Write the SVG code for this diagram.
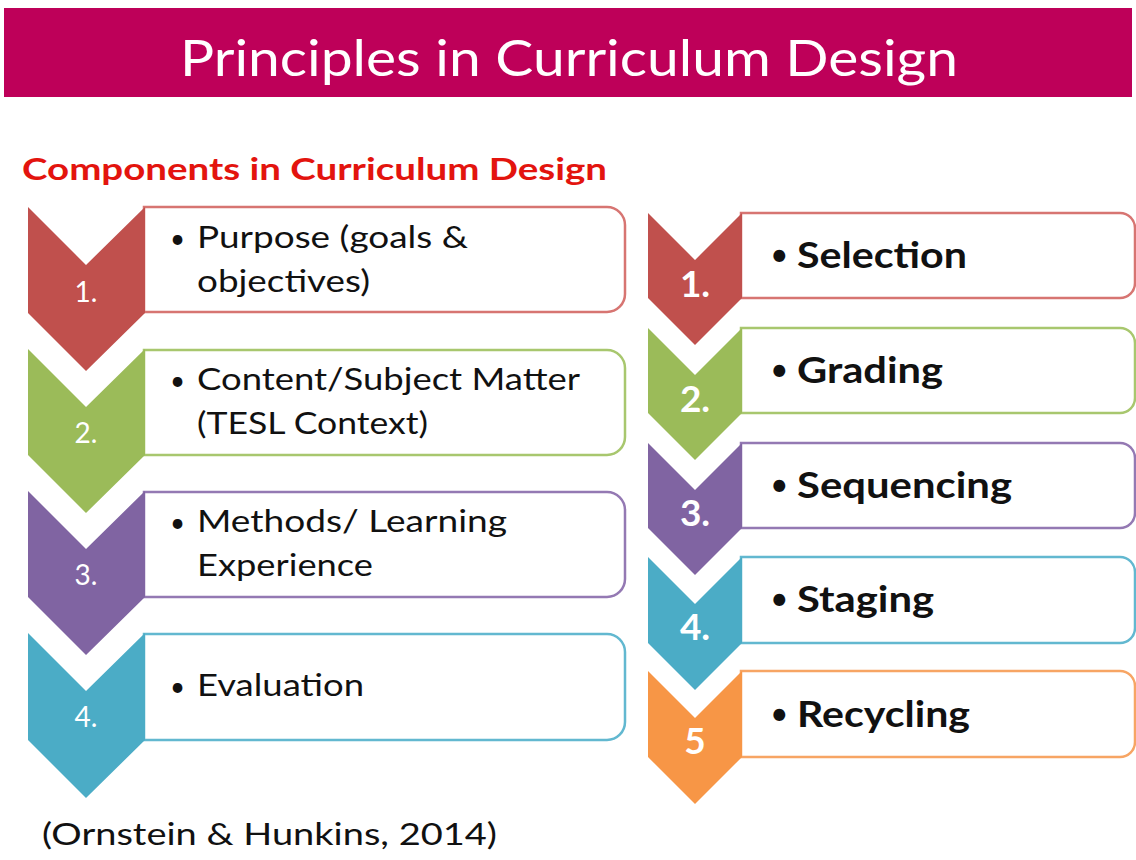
<svg xmlns="http://www.w3.org/2000/svg" width="1136" height="860" viewBox="0 0 1136 860">
<style>
text{font-family:Lato,"Open Sans",sans-serif}
.title{font-size:50px;fill:#fff}
.head{font-size:31px;font-weight:bold;fill:#E3140E}
.lt{font-size:31px;fill:#111}
.rt{font-size:37px;font-weight:bold;fill:#111}
.lb{font-size:26px;fill:#111}
.rb{font-size:32px;fill:#111}
.ln{font-size:28px;fill:#fff;text-anchor:middle}
.rn{font-size:37px;font-weight:bold;fill:#fff;text-anchor:middle}
.cite{font-size:31px;fill:#111}
.box{fill:#fff;stroke-width:2.5}
</style>
<rect x="0" y="0" width="1136" height="860" fill="#fff"/>
<g id="title">
<rect x="4" y="8" width="1128" height="89" fill="#BE0059"/>
<text class="title" x="180" y="76" textLength="778" lengthAdjust="spacingAndGlyphs">Principles in Curriculum Design</text>
</g>
<g id="heading"><text class="head" x="22" y="180" textLength="585" lengthAdjust="spacingAndGlyphs">Components in Curriculum Design</text></g>

<g id="l1">
<path class="box" d="M144,207 H607 A18,18 0 0 1 625,225 V294 A18,18 0 0 1 607,312 H144 Z" stroke="#D77572"/>
<polygon points="28,207 86,265 145,207 145,313 86,371 28,313" fill="#C0504D"/>
<text class="ln" x="86" y="302">1.</text>
<text class="lb" x="170" y="248">•</text><text class="lt" x="197" y="248" textLength="271" lengthAdjust="spacingAndGlyphs">Purpose (goals &amp;</text>
<text class="lt" x="197" y="292" textLength="173" lengthAdjust="spacingAndGlyphs">objectives)</text>
</g>
<g id="l2">
<path class="box" d="M144,350 H607 A18,18 0 0 1 625,368 V437 A18,18 0 0 1 607,455 H144 Z" stroke="#A8C76E"/>
<polygon points="28,349 86,407 145,349 145,455 86,513 28,455" fill="#9BBB59"/>
<text class="ln" x="86" y="443">2.</text>
<text class="lb" x="170" y="390">•</text><text class="lt" x="197" y="390" textLength="383" lengthAdjust="spacingAndGlyphs">Content/Subject Matter</text>
<text class="lt" x="197" y="434" textLength="231" lengthAdjust="spacingAndGlyphs">(TESL Context)</text>
</g>
<g id="l3">
<path class="box" d="M144,492 H607 A18,18 0 0 1 625,510 V579 A18,18 0 0 1 607,597 H144 Z" stroke="#9479B3"/>
<polygon points="28,491 86,549 145,491 145,597 86,655 28,597" fill="#8064A2"/>
<text class="ln" x="86" y="585">3.</text>
<text class="lb" x="170" y="532">•</text><text class="lt" x="197" y="532" textLength="310" lengthAdjust="spacingAndGlyphs">Methods/ Learning</text>
<text class="lt" x="197" y="576" textLength="176" lengthAdjust="spacingAndGlyphs">Experience</text>
</g>
<g id="l4">
<path class="box" d="M144,634 H607 A18,18 0 0 1 625,652 V722 A18,18 0 0 1 607,740 H144 Z" stroke="#62B8D0"/>
<polygon points="28,633 86,691 145,633 145,740 86,798 28,740" fill="#4BACC6"/>
<text class="ln" x="86" y="727">4.</text>
<text class="lb" x="170" y="696">•</text><text class="lt" x="197" y="696" textLength="167" lengthAdjust="spacingAndGlyphs">Evaluation</text>
</g>

<g id="r1">
<path class="box" d="M741,213 H1120 A15,15 0 0 1 1135,228 V283 A15,15 0 0 1 1120,298 H741 Z" stroke="#D77572"/>
<polygon points="648,213 695,260 742,213 742,298 695,345 648,298" fill="#C0504D"/>
<text class="rn" x="695" y="297">1.</text>
<text class="rb" x="770" y="266">•</text><text class="rt" x="797" y="268" textLength="170" lengthAdjust="spacingAndGlyphs">Selection</text>
</g>
<g id="r2">
<path class="box" d="M741,328 H1120 A15,15 0 0 1 1135,343 V398 A15,15 0 0 1 1120,413 H741 Z" stroke="#A8C76E"/>
<polygon points="648,328 695,375 742,328 742,413 695,460 648,413" fill="#9BBB59"/>
<text class="rn" x="695" y="412">2.</text>
<text class="rb" x="770" y="381">•</text><text class="rt" x="797" y="383" textLength="146" lengthAdjust="spacingAndGlyphs">Grading</text>
</g>
<g id="r3">
<path class="box" d="M741,443 H1120 A15,15 0 0 1 1135,458 V513 A15,15 0 0 1 1120,528 H741 Z" stroke="#9479B3"/>
<polygon points="648,443 695,490 742,443 742,528 695,575 648,528" fill="#8064A2"/>
<text class="rn" x="695" y="526">3.</text>
<text class="rb" x="770" y="496">•</text><text class="rt" x="797" y="498" textLength="215" lengthAdjust="spacingAndGlyphs">Sequencing</text>
</g>
<g id="r4">
<path class="box" d="M741,557 H1120 A15,15 0 0 1 1135,572 V628 A15,15 0 0 1 1120,643 H741 Z" stroke="#62B8D0"/>
<polygon points="648,557 695,604 742,557 742,643 695,690 648,643" fill="#4BACC6"/>
<text class="rn" x="695" y="640">4.</text>
<text class="rb" x="770" y="610">•</text><text class="rt" x="797" y="612" textLength="137" lengthAdjust="spacingAndGlyphs">Staging</text>
</g>
<g id="r5">
<path class="box" d="M741,671 H1120 A15,15 0 0 1 1135,686 V742 A15,15 0 0 1 1120,757 H741 Z" stroke="#F7A564"/>
<polygon points="648,671 695,718 742,671 742,757 695,804 648,757" fill="#F79646"/>
<text class="rn" x="695" y="754">5</text>
<text class="rb" x="770" y="725">•</text><text class="rt" x="797" y="727" textLength="173" lengthAdjust="spacingAndGlyphs">Recycling</text>
</g>

<g id="citation"><text class="cite" x="42" y="845" textLength="455" lengthAdjust="spacingAndGlyphs">(Ornstein &amp; Hunkins, 2014)</text></g>
</svg>
